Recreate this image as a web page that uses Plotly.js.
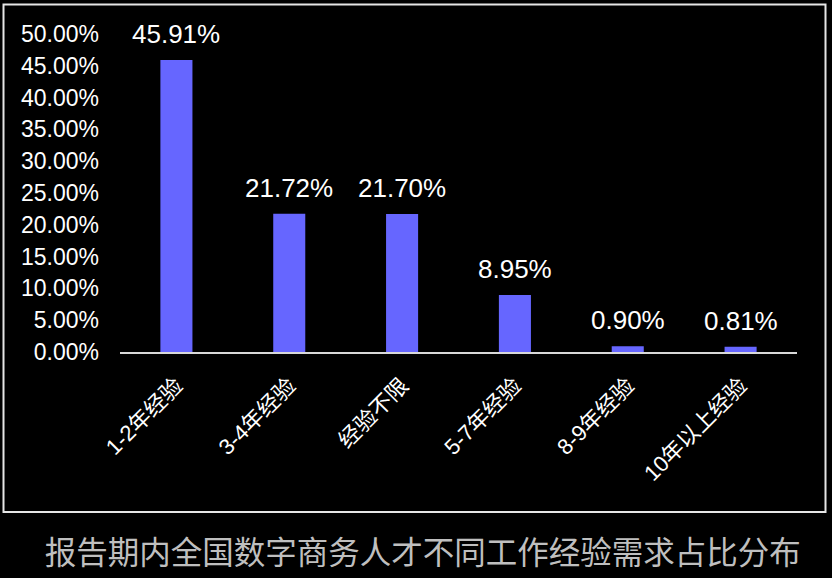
<!DOCTYPE html>
<html>
<head>
<meta charset="utf-8">
<script src="https://cdn.plot.ly/plotly-3.0.1.min.js"></script>
<style>html,body{margin:0;padding:0;background:#000;}#chart{width:832px;height:578px;}</style>
</head>
<body>
<div id="chart"></div>
<script>
const categories = ["1-2年经验", "3-4年经验", "经验不限", "5-7年经验", "8-9年经验", "10年以上经验"];
const shares = [45.91, 21.72, 21.70, 8.95, 0.90, 0.81];
const yTickValues = [0, 5, 10, 15, 20, 25, 30, 35, 40, 45, 50];
const yTickLabels = ["0.00%", "5.00%", "10.00%", "15.00%", "20.00%", "25.00%", "30.00%", "35.00%", "40.00%", "45.00%", "50.00%"];
const chartTitle = "报告期内全国数字商务人才不同工作经验需求占比分布";

const FONT = "'Liberation Sans', Arial, 'Noto Sans CJK SC', sans-serif";

const trace = {
  type: 'bar',
  x: categories,
  y: shares,
  marker: {color: '#6666FF'},
  width: 0.284,
  hoverinfo: 'none'
};

const annotations = categories.map((c, i) => ({
  x: c, y: shares[i], xref: 'x', yref: 'y',
  text: shares[i].toFixed(2) + '%',
  showarrow: false, yanchor: 'middle', yshift: 26,
  font: {family: FONT, size: 26, color: '#ffffff'}
}));

const layout = {
  width: 832, height: 578,
  paper_bgcolor: '#000000', plot_bgcolor: '#000000',
  margin: {l: 120, r: 35, t: 34, b: 226},
  showlegend: false,
  title: {
    text: chartTitle,
    xref: 'container', yref: 'container', x: 0.508, y: 0.043,
    xanchor: 'center', yanchor: 'middle',
    font: {family: "'Noto Sans CJK SC', sans-serif", size: 31.5, color: '#bfbfbf'}
  },
  xaxis: {
    type: 'category', range: [-0.5, 5.5],
    showline: true, linecolor: '#d9d9d9', linewidth: 2,
    showgrid: false, zeroline: false, ticks: '',
    tickangle: -45,
    ticklabelstandoff: 10,
    tickfont: {family: FONT, size: 22, color: '#ffffff'}
  },
  yaxis: {
    range: [0, 50], showgrid: false, zeroline: false, showline: false,
    tickvals: yTickValues, ticktext: yTickLabels, ticks: '',
    ticklabelstandoff: 20,
    tickfont: {family: FONT, size: 23, color: '#ffffff'}
  },
  annotations: annotations,
  shapes: [{
    type: 'rect', xref: 'paper', yref: 'paper',
    x0: (3.5 - 120) / 677, x1: (825.5 - 120) / 677,
    y0: (352 - 512) / 318, y1: (352 - 4.5) / 318,
    line: {color: '#e6e6e6', width: 2}, fillcolor: 'rgba(0,0,0,0)', layer: 'below'
  }]
};

Plotly.newPlot('chart', [trace], layout, {displayModeBar: false, staticPlot: true});
</script>
</body>
</html>
